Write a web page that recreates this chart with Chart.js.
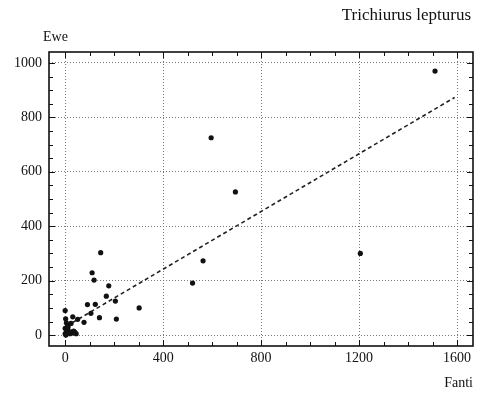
<!DOCTYPE html>
<html>
<head>
<meta charset="utf-8">
<script src="https://cdn.jsdelivr.net/npm/chart.js@4/dist/chart.umd.min.js"></script>
<style>
  html, body { margin: 0; padding: 0; background: #fff; }
  #wrap { width: 493px; height: 398px; position: relative; }
</style>
</head>
<body>
<div id="wrap"><canvas id="chart"></canvas></div>
<script>
// Catch comparison, Fanti vs Ewe
const xTicks = [0, 400, 800, 1200, 1600];
const yTicks = [0, 200, 400, 600, 800, 1000];

const fantiCatch = [1510, 596, 695, 563, 520, 1205, 145, 110, 118, 178, 168, 205, 302, 209, 140, 91, 123, 105,
    0, 31, 51, 24, 10, 77, 0, 5, 10, 15, 20, 25, 30, 35, 40, 0, 3, 45, 12, 2, 5];
const eweCatch = [970, 725, 526, 273, 191, 300, 303, 229, 202, 181, 143, 125, 100, 59, 64, 112, 113, 80,
    90, 67, 58, 43, 37, 47, 5, 15, 20, 10, 5, 12, 8, 15, 10, 25, 0, 5, 30, 60, 45];

// fitted line, end points
const fitX = [30, 1590];
const fitY = [46, 873];

const font = "'Liberation Serif', 'Times New Roman', serif";

// frame with inward ticks plus the free-standing labels
const framePlugin = {
    id: "frame",
    afterDraw(chart) {
        const ctx = chart.ctx;
        const area = chart.chartArea;
        const xs = chart.scales.x;
        const ys = chart.scales.y;
        ctx.save();
        ctx.strokeStyle = "#111";
        ctx.lineWidth = 1;
        for (let v = 0; v <= 1000; v += 50) {
            const py = Math.round(ys.getPixelForValue(v)) + 0.5;
            const len = v % 200 === 0 ? 6 : 4;
            ctx.beginPath();
            ctx.moveTo(area.left, py); ctx.lineTo(area.left + len, py);
            ctx.moveTo(area.right, py); ctx.lineTo(area.right - len, py);
            ctx.stroke();
        }
        for (let v = 0; v <= 1600; v += 100) {
            const px = Math.round(xs.getPixelForValue(v)) + 0.5;
            const len = v % 400 === 0 ? 6 : 4;
            ctx.beginPath();
            ctx.moveTo(px, area.top); ctx.lineTo(px, area.top + len);
            ctx.moveTo(px, area.bottom); ctx.lineTo(px, area.bottom - len);
            ctx.stroke();
        }
        ctx.lineWidth = 1.6;
        ctx.strokeRect(area.left, area.top, area.right - area.left, area.bottom - area.top);

        ctx.fillStyle = "#111";
        ctx.textBaseline = "middle";
        ctx.font = "17px " + font;
        ctx.textAlign = "right";
        ctx.fillText("Trichiurus lepturus", 471, 16);
        ctx.font = "14px " + font;
        ctx.textAlign = "left";
        ctx.fillText("Ewe", 43, 37);
        ctx.textAlign = "right";
        ctx.fillText("Fanti", 473, 383);
        ctx.restore();
    }
};

const gridStyle = { color: "#777", lineWidth: 1, drawTicks: false };

new Chart(document.getElementById("chart"), {
    type: "scatter",
    data: {
        datasets: [
            {
                data: fantiCatch.map((x, i) => ({ x: x, y: eweCatch[i] })),
                backgroundColor: "#111",
                borderWidth: 0,
                pointRadius: 2.6,
            },
            {
                data: fitX.map((x, i) => ({ x: x, y: fitY[i] })),
                showLine: true,
                borderColor: "#222",
                borderWidth: 1.6,
                borderDash: [4, 3],
                pointRadius: 0,
            },
        ],
    },
    options: {
        responsive: true,
        maintainAspectRatio: false,
        animation: false,
        layout: { padding: { top: 52, right: 20, left: 0, bottom: 0 } },
        plugins: {
            legend: { display: false },
            tooltip: { enabled: false },
        },
        scales: {
            x: {
                type: "linear",
                min: -66,
                max: 1665,
                afterBuildTicks: (scale) => { scale.ticks = xTicks.map(v => ({ value: v })); },
                afterFit: (scale) => { scale.height = 52; },
                grid: gridStyle,
                border: { display: false, dash: [1, 2] },
                ticks: {
                    padding: 4, color: "#111", maxRotation: 0,
                    font: { family: font, size: 14 },
                    callback: (v) => String(v),
                },
            },
            y: {
                type: "linear",
                min: -40,
                max: 1040,
                afterBuildTicks: (scale) => { scale.ticks = yTicks.map(v => ({ value: v })); },
                afterFit: (scale) => { scale.width = 49; },
                grid: gridStyle,
                border: { display: false, dash: [1, 2] },
                ticks: {
                    padding: 7, color: "#111",
                    font: { family: font, size: 14 },
                    callback: (v) => String(v),
                },
            },
        },
    },
    plugins: [framePlugin],
});
</script>
</body>
</html>
